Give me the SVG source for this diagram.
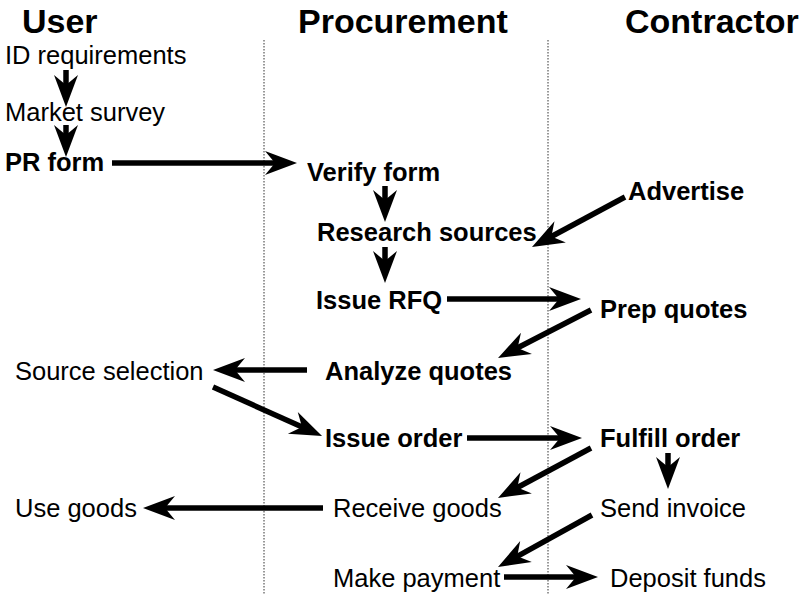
<svg xmlns="http://www.w3.org/2000/svg" width="800" height="595" viewBox="0 0 800 595">
<style>
text{font-family:"Liberation Sans",Arial,sans-serif;font-size:25.5px;fill:#000}
.h{font-size:34px;font-weight:bold}
.b{font-weight:bold}
.lane{stroke:#333;stroke-width:1;stroke-dasharray:1.5,1.5;fill:none}
.c{stroke:#000;stroke-width:5.5;fill:none;marker-end:url(#ah)}
</style>
<defs>
<marker id="ah" markerUnits="userSpaceOnUse" viewBox="-34 -14 38 28" markerWidth="38" markerHeight="28" refX="-20" refY="0" orient="auto">
<path d="M0,0 L-32,-12 L-22,0 L-32,12 Z" fill="#000"/>
</marker>
</defs>
<rect width="800" height="595" fill="#fff"/>
<g id="lanes">
<line class="lane" x1="264" y1="40" x2="264" y2="595"/>
<line class="lane" x1="548" y1="40" x2="548" y2="595"/>
</g>
<g id="headers">
<text class="h" x="22" y="33">User</text>
<text class="h" x="298" y="33">Procurement</text>
<text class="h" x="625" y="33">Contractor</text>
</g>
<g id="n-id"><text x="5" y="64">ID requirements</text></g>
<g id="n-market"><text x="5" y="121">Market survey</text></g>
<g id="n-pr"><text class="b" x="5" y="171">PR form</text></g>
<g id="n-verify"><text class="b" x="307" y="181">Verify form</text></g>
<g id="n-research"><text class="b" x="317" y="241">Research sources</text></g>
<g id="n-rfq"><text class="b" x="316" y="309">Issue RFQ</text></g>
<g id="n-advertise"><text class="b" x="628" y="200">Advertise</text></g>
<g id="n-prep"><text class="b" x="600" y="318">Prep quotes</text></g>
<g id="n-analyze"><text class="b" x="325" y="380">Analyze quotes</text></g>
<g id="n-source"><text x="15" y="380">Source selection</text></g>
<g id="n-issue"><text class="b" x="325" y="447">Issue order</text></g>
<g id="n-fulfill"><text class="b" x="600" y="447">Fulfill order</text></g>
<g id="n-receive"><text x="333" y="517">Receive goods</text></g>
<g id="n-use"><text x="15" y="517">Use goods</text></g>
<g id="n-invoice"><text x="600" y="517">Send invoice</text></g>
<g id="n-payment"><text x="333" y="587">Make payment</text></g>
<g id="n-deposit"><text x="610" y="587">Deposit funds</text></g>
<g id="connectors">
<line class="c" x1="66" y1="70" x2="66" y2="87"/>
<line class="c" x1="66" y1="125" x2="66" y2="137"/>
<line class="c" x1="112" y1="163" x2="277" y2="163"/>
<line class="c" x1="385" y1="186" x2="385" y2="202"/>
<line class="c" x1="385" y1="247" x2="385" y2="263"/>
<line class="c" x1="447" y1="299" x2="561" y2="299"/>
<line class="c" x1="625" y1="197" x2="549.6" y2="237.5"/>
<line class="c" x1="591" y1="310" x2="515.8" y2="348.8"/>
<line class="c" x1="307" y1="370" x2="233" y2="370"/>
<line class="c" x1="213" y1="387" x2="303.8" y2="427.8"/>
<line class="c" x1="467" y1="438" x2="562" y2="438"/>
<line class="c" x1="668" y1="453" x2="668" y2="469"/>
<line class="c" x1="591" y1="448" x2="515.6" y2="488.5"/>
<line class="c" x1="323" y1="508" x2="163" y2="508"/>
<line class="c" x1="592" y1="515" x2="515.5" y2="557.3"/>
<line class="c" x1="504" y1="577" x2="578" y2="577"/>
</g>
</svg>
